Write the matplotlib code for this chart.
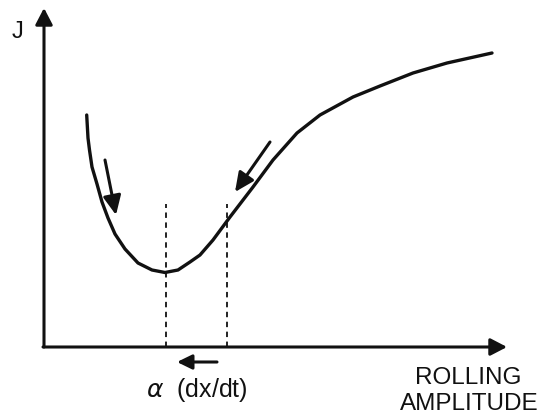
import matplotlib
matplotlib.use("Agg")
import matplotlib.pyplot as plt

plt.rcParams['font.family'] = ['Liberation Sans', 'DejaVu Sans']

# curve J versus rolling amplitude
amp = [42.7, 44, 45.5, 48, 53, 58, 64, 71, 81, 94, 108, 121, 134, 146,
       156, 169, 186, 209, 229, 253, 276, 309, 336, 369, 403, 448]
J = [232, 209, 197, 180, 163, 145, 129, 113, 98, 84, 77, 74.5, 77, 85,
     92, 107, 130, 160, 187, 214, 232, 250, 261, 274, 284, 294]

# dashed markers: optimum and current amplitude
dash_x = [122, 183]
dash_top = 143

# direction arrows (tail, head)
arrows = [((61, 187), (72, 132)),
          ((226, 205), (191, 155))]
shift_arrow = ((173, -15), (133, -15))

x_axis_end = 463
y_axis_end = 339

fig = plt.figure(figsize=(5.43, 4.16), dpi=100)
ax = fig.add_axes([0, 0, 1, 1])
ax.set_xlim(-44, 499)
ax.set_ylim(-69, 347)
ax.axis('off')

black = '#111111'


def arrow(tail, head, hl, hw, lw):
    ax.annotate('', xy=head, xytext=tail,
                arrowprops=dict(arrowstyle=f'-|>,head_length={hl},head_width={hw}',
                                lw=lw, color=black, shrinkA=0, shrinkB=0,
                                mutation_scale=20))


# axes with arrow heads
arrow((0, 0), (0, y_axis_end), 0.5, 0.26, 2.2)
arrow((-1, 0), (x_axis_end, 0), 0.5, 0.26, 2.2)

ax.plot(amp, J, color=black, lw=2.4, solid_joinstyle='round',
        solid_capstyle='round')

for x in dash_x:
    ax.plot([x, x], [0, dash_top], color=black, lw=1.3, ls=(0, (3, 2.5)))

for tail, head in arrows:
    arrow(tail, head, 0.58, 0.27, 2.2)

arrow(shift_arrow[0], shift_arrow[1], 0.45, 0.22, 2.2)

ax.text(-27, 315, 'J', fontsize=17, ha='center', va='center', color=black)
ax.text(153, -43, r'$\alpha$  (dx/dt)', fontsize=18, ha='center',
        va='center', color=black)
ax.text(424, -31, 'ROLLING', fontsize=17.5, ha='center', va='center',
        color=black)
ax.text(425, -57, 'AMPLITUDE', fontsize=17.5, ha='center', va='center',
        color=black)

fig.savefig('out.png', dpi=100)
